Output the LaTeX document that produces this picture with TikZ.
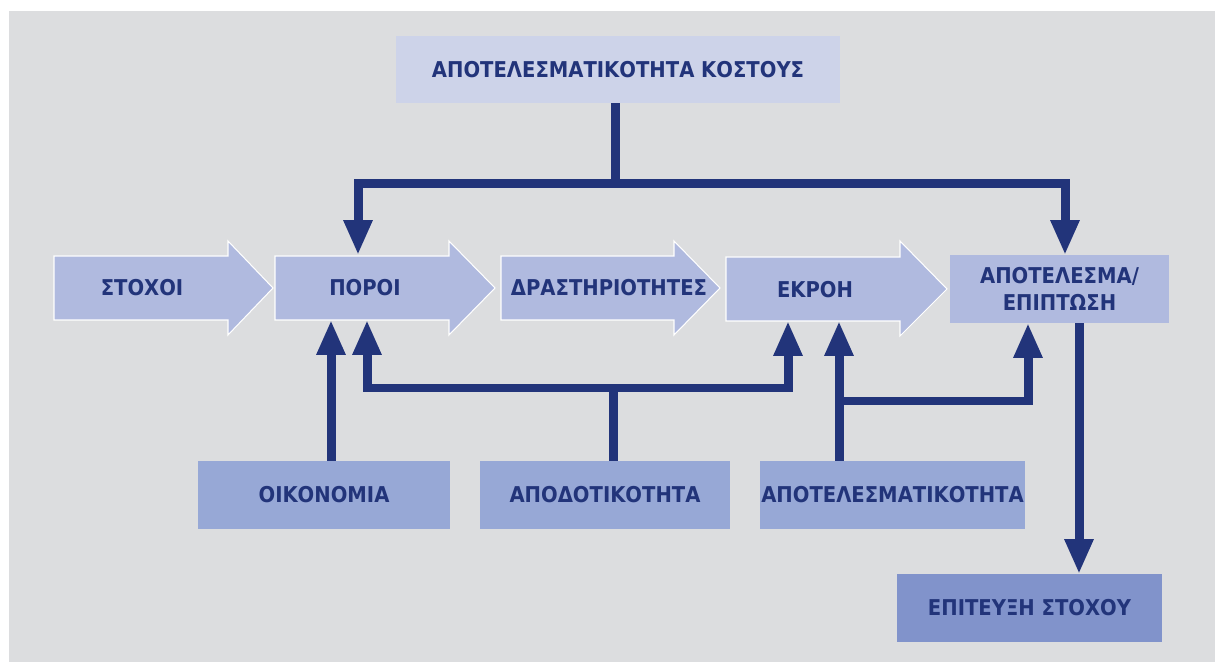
\documentclass[tikz,border=0pt]{standalone}
\usepackage{fontspec}
\setmainfont{DejaVu Sans Condensed}
\usetikzlibrary{arrows.meta}
\definecolor{backgray}{HTML}{DCDDDF}
\definecolor{headfill}{HTML}{CDD3E9}
\definecolor{flowfill}{HTML}{B0BADF}
\definecolor{factorfill}{HTML}{97A8D6}
\definecolor{goalfill}{HTML}{8193CB}
\definecolor{navy}{HTML}{22347A}
\tikzset{
  backdrop/.style={fill=backgray, draw=none},
  flowarrow/.style={fill=flowfill, draw=white, line width=0.6pt, line join=miter},
  boxtext/.style={font=\fontsize{12.4}{15.3}\selectfont\bfseries, text=navy, inner sep=0pt, align=center},
  headbox/.style={boxtext, rectangle, fill=headfill, minimum width=8.88cm, minimum height=1.34cm},
  outcbox/.style={boxtext, rectangle, fill=flowfill, minimum width=4.38cm, minimum height=1.36cm},
  factorbox/.style={boxtext, rectangle, fill=factorfill, minimum height=1.36cm},
  goalbox/.style={boxtext, rectangle, fill=goalfill, minimum width=5.3cm, minimum height=1.36cm},
  link/.style={draw=navy, line width=0.18cm, line join=miter},
  linkarrow/.style={link, -{Triangle[width=0.54cm, length=0.7cm]}},
}

\begin{document}
\begin{tikzpicture}[x=0.02cm, y=-0.02cm]
\useasboundingbox (0,0) rectangle (1215,662);
\fill[backdrop] (9,11) rectangle (1215,662);
\draw[flowarrow] (54,256) -- (228,256) -- (228,241) -- (273,288) -- (228,335) -- (228,320) -- (54,320) -- cycle;
\draw[flowarrow] (275,256) -- (449,256) -- (449,241) -- (495,288) -- (449,335) -- (449,320) -- (275,320) -- cycle;
\draw[flowarrow] (501,256) -- (674,256) -- (674,241) -- (720,288) -- (674,335) -- (674,320) -- (501,320) -- cycle;
\draw[flowarrow] (726,257) -- (900,257) -- (900,241) -- (947,289) -- (900,336) -- (900,321) -- (726,321) -- cycle;
\node[boxtext] (stoxoi) at (142,288) {ΣΤΟΧΟΙ};
\node[boxtext] (poroi) at (365,288) {ΠΟΡΟΙ};
\node[boxtext] (drast) at (609,288) {ΔΡΑΣΤΗΡΙΟΤΗΤΕΣ};
\node[boxtext] (ekroi) at (815,290) {ΕΚΡΟΗ};
\node[headbox] (kost) at (618,69.5) {ΑΠΟΤΕΛΕΣΜΑΤΙΚΟΤΗΤΑ ΚΟΣΤΟΥΣ};
\node[outcbox] (outc) at (1059.5,289) {ΑΠΟΤΕΛΕΣΜΑ/\\ΕΠΙΠΤΩΣΗ};
\node[factorbox, minimum width=5.04cm] (oik) at (324,495) {ΟΙΚΟΝΟΜΙΑ};
\node[factorbox, minimum width=5cm] (eff) at (605,495) {ΑΠΟΔΟΤΙΚΟΤΗΤΑ};
\node[factorbox, minimum width=5.3cm] (res) at (892.5,495) {ΑΠΟΤΕΛΕΣΜΑΤΙΚΟΤΗΤΑ};
\node[goalbox] (goal) at (1029.5,608) {ΕΠΙΤΕΥΞΗ ΣΤΟΧΟΥ};
\coordinate (jcost) at (615,184);
\coordinate (poroi-in) at (358,255);
\coordinate (outc-in) at (1065,255);
\coordinate (poroi-oik) at (331,320);
\coordinate (poroi-eff) at (367,320);
\coordinate (jeff) at (613,388);
\coordinate (ekroi-eff) at (788,321);
\coordinate (ekroi-res) at (839,321);
\coordinate (jres) at (839,401);
\coordinate (outc-res) at (1028,323);
\coordinate (goal-in) at (1079,574);
\draw[link] (kost.south -| jcost) -- (jcost);
\draw[linkarrow] (jcost) -| (poroi-in);
\draw[linkarrow] (jcost) -| (outc-in);
\draw[linkarrow] (oik.north -| poroi-oik) -- (poroi-oik);
\draw[link] (eff.north -| jeff) -- (jeff);
\draw[linkarrow] (jeff) -| (poroi-eff);
\draw[linkarrow] (jeff) -| (ekroi-eff);
\draw[linkarrow] (res.north -| ekroi-res) -- (ekroi-res);
\draw[linkarrow] (jres) -| (outc-res);
\draw[linkarrow] (outc.south -| goal-in) -- (goal-in);
\end{tikzpicture}
\end{document}
